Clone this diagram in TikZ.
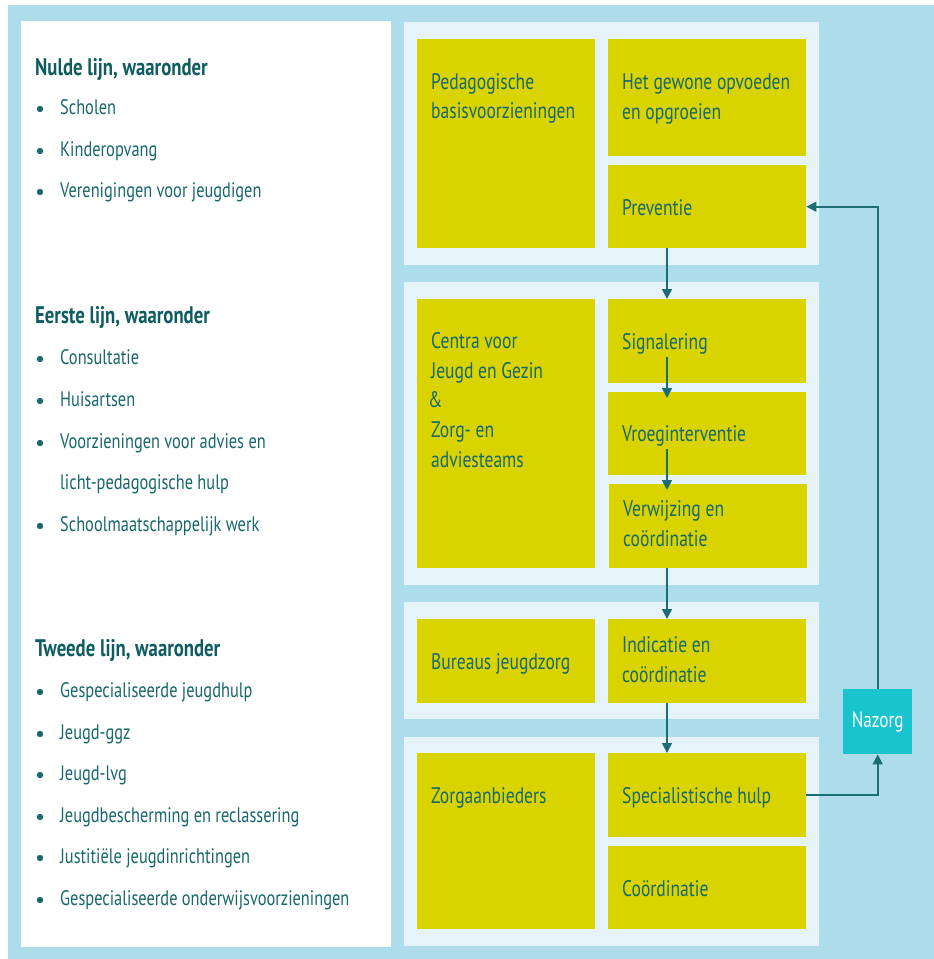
\documentclass[tikz,border=0pt]{standalone}
\usepackage{fontspec}
\setmainfont{PT Sans}[FakeStretch=0.78]
\usetikzlibrary{arrows.meta,calc}
\definecolor{bgblue}{HTML}{ADDDEB}
\definecolor{grp}{HTML}{E6F3F8}
\definecolor{yel}{HTML}{D9D300}
\definecolor{naz}{HTML}{1AC4CE}
\definecolor{tc}{HTML}{18686C}
\definecolor{hc}{HTML}{0E5C60}
\definecolor{ac}{HTML}{1D6E74}
\begin{document}
\begin{tikzpicture}[x=1pt,y=-1pt,
  ybox/.style={fill=yel, draw=none, inner sep=0pt, anchor=north west},
  btxt/.style={text=tc, inner sep=0pt, align=left, font=\fontsize{22.5}{29.8}\selectfont,
    execute at begin node=\strut, execute at end node=\strut},
  head/.style={text=hc, inner sep=0pt, anchor=base west, font=\bfseries\fontsize{24}{28}\selectfont},
  itm/.style={text=tc, inner sep=0pt, anchor=base west, font=\fontsize{21}{25}\selectfont},
  bul/.style={fill=tc, draw=none, circle, inner sep=0pt, minimum size=6.4pt},
  arr/.style={draw=ac, line width=1.6pt, -{Triangle[length=10pt,width=10pt]}},
  nazbox/.style={fill=naz, draw=none, inner sep=0pt, text=white, anchor=north west,
    font=\fontsize{22}{26}\selectfont}
]
\useasboundingbox (0,0) rectangle (934,959);
\fill[white] (0,0) rectangle (934,959);
\fill[bgblue] (8,5) rectangle (934,959);
% left white panel
\fill[white] (21,21) rectangle (391,947);
% group panels
\fill[grp] (404,22) rectangle (819,265);
\fill[grp] (404,282) rectangle (819,585);
\fill[grp] (404,602) rectangle (819,719);
\fill[grp] (404,737) rectangle (819,946);

% left list
\node[head] (h0) at (35,75) {Nulde lijn, waaronder};
\node[itm] (i01) at (60,114) {Scholen};
\node[itm] (i02) at (60,156) {Kinderopvang};
\node[itm] (i03) at (60,197) {Verenigingen voor jeugdigen};
\node[bul] (b01) at (40,109) {};
\node[bul] (b02) at (40,151) {};
\node[bul] (b03) at (40,192) {};

\node[head] (h1) at (35,323) {Eerste lijn, waaronder};
\node[itm] (i11) at (60,364) {Consultatie};
\node[itm] (i12) at (60,406) {Huisartsen};
\node[itm] (i13) at (60,448) {Voorzieningen voor advies en};
\node[itm] (i13b) at (60,489) {licht-pedagogische hulp};
\node[itm] (i14) at (60,531) {Schoolmaatschappelijk werk};
\node[bul] (b11) at (40,359) {};
\node[bul] (b12) at (40,401) {};
\node[bul] (b13) at (40,443) {};
\node[bul] (b14) at (40,526) {};

\node[head] (h2) at (35,656) {Tweede lijn, waaronder};
\node[itm] (i21) at (60,697) {Gespecialiseerde jeugdhulp};
\node[itm] (i22) at (60,739) {Jeugd-ggz};
\node[itm] (i23) at (60,780) {Jeugd-lvg};
\node[itm] (i24) at (60,822) {Jeugdbescherming en reclassering};
\node[itm] (i25) at (60,863) {Justitiële jeugdinrichtingen};
\node[itm] (i26) at (60,905) {Gespecialiseerde onderwijsvoorzieningen};
\node[bul] (b21) at (40,692) {};
\node[bul] (b22) at (40,734) {};
\node[bul] (b23) at (40,775) {};
\node[bul] (b24) at (40,817) {};
\node[bul] (b25) at (40,858) {};
\node[bul] (b26) at (40,900) {};

% group 1
\node[ybox, minimum width=178pt, minimum height=209pt] (pbv) at (417,39) {};
\node[btxt, anchor=north west] (pbvt) at ($(pbv.north west)+(14,34)$) {Pedagogische\\basisvoorzieningen};
\node[ybox, minimum width=198pt, minimum height=117pt] (hgo) at (608,39) {};
\node[btxt, anchor=west] (hgot) at ($(hgo.west)+(14,3.5)$) {Het gewone opvoeden\\en opgroeien};
\node[ybox, minimum width=198pt, minimum height=83pt] (prev) at (608,165) {};
\node[btxt, anchor=west] (prevt) at ($(prev.west)+(14,2.5)$) {Preventie};

% group 2
\node[ybox, minimum width=178pt, minimum height=269pt] (cjg) at (417,299) {};
\node[btxt, anchor=north west] (cjgt) at ($(cjg.north west)+(14,33)$) {Centra voor\\Jeugd en Gezin\\\kern-3pt\&\\Zorg- en\\adviesteams};
\node[ybox, minimum width=198pt, minimum height=84pt] (sig) at (608,299) {};
\node[btxt, anchor=west] (sigt) at ($(sig.west)+(14,2.5)$) {Signalering};
\node[ybox, minimum width=198pt, minimum height=83pt] (vroeg) at (608,392) {};
\node[btxt, anchor=west] (vroegt) at ($(vroeg.west)+(14,2)$) {Vroeginterventie};
\node[ybox, minimum width=198pt, minimum height=84pt] (verw) at (609,484) {};
\node[btxt, anchor=west] (verwt) at ($(verw.west)+(14,2)$) {Verwijzing en\\coördinatie};

% group 3
\node[ybox, minimum width=178pt, minimum height=84pt] (bj) at (417,619) {};
\node[btxt, anchor=west] (bjt) at ($(bj.west)+(14,2.5)$) {Bureaus jeugdzorg};
\node[ybox, minimum width=198pt, minimum height=84pt] (ind) at (608,619) {};
\node[btxt, anchor=west] (indt) at ($(ind.west)+(14,2.5)$) {Indicatie en\\coördinatie};

% group 4
\node[ybox, minimum width=178pt, minimum height=176pt] (za) at (417,753) {};
\node[btxt, anchor=north west] (zat) at ($(za.north west)+(14,29.5)$) {Zorgaanbieders};
\node[ybox, minimum width=198pt, minimum height=84pt] (sh) at (608,753) {};
\node[btxt, anchor=west] (sht) at ($(sh.west)+(14,2.5)$) {Specialistische hulp};
\node[ybox, minimum width=198pt, minimum height=83pt] (co) at (608,846) {};
\node[btxt, anchor=west] (cot) at ($(co.west)+(14,2.5)$) {Coördinatie};

% Nazorg
\node[nazbox, minimum width=69pt, minimum height=65pt] (nz) at (843,689) {Nazorg};

% connectors
\coordinate (ax) at (667,0);
\draw[arr] (prev.south -| ax) -- (sig.north -| ax);
\draw[arr] ($(sig.south -| ax)+(0,-26)$) -- ($(vroeg.north -| ax)+(0,6)$);
\draw[arr] ($(vroeg.south -| ax)+(0,-26)$) -- ($(verw.north -| ax)+(0,6)$);
\draw[arr] (verw.south -| ax) -- (ind.north -| ax);
\draw[arr] (ind.south -| ax) -- (sh.north -| ax);
\draw[arr] (sh.east) -| (nz.south);
\draw[arr] (nz.north) |- (prev.east);
\end{tikzpicture}
\end{document}
